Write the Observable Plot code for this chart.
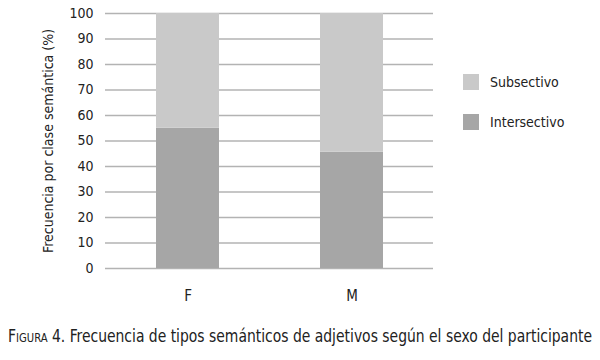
<!DOCTYPE html>
<html><head><meta charset="utf-8">
<script src="https://cdn.jsdelivr.net/npm/d3@7"></script>
<script src="https://cdn.jsdelivr.net/npm/@observablehq/plot@0.6"></script>
<style>
body{margin:0;background:#fff;font-family:"DejaVu Sans Condensed","DejaVu Sans",sans-serif;font-stretch:condensed;}
#wrap{position:relative;width:600px;height:360px;overflow:hidden;}
#legend{position:absolute;left:463px;top:72px;font-size:14px;color:#222;}
.li{display:flex;align-items:center;height:20px;margin-bottom:20px;}
.sw{width:16px;height:16px;margin-right:11px;}
#caption{position:absolute;left:8px;top:325px;white-space:nowrap;font-size:18px;line-height:22px;color:#222;transform-origin:0 0;display:inline-block;}
.sc{font-variant:small-caps;}
</style></head>
<body><div id="wrap"><div id="chart"></div><div id="legend"></div>
<div id="caption"><span class="sc">Figura</span> 4. Frecuencia de tipos semánticos de adjetivos según el sexo del participante</div>
</div>
<script>
const categories = ["F", "M"];
const series = ["Intersectivo", "Subsectivo"];
const intersectivo = [55, 45.6];
const subsectivo = [45, 54.4];
const colors = ["#a6a6a6", "#c9c9c9"];
const yTicks = [0,10,20,30,40,50,60,70,80,90,100];

const data = [];
categories.forEach((c,i)=>{
  data.push({sexo:c, tipo:series[0], valor:intersectivo[i]});
  data.push({sexo:c, tipo:series[1], valor:subsectivo[i]});
});

const chart = Plot.plot({
  width: 600, height: 312,
  marginLeft: 105, marginRight: 167, marginTop: 13, marginBottom: 44,
  style: {fontFamily: '"DejaVu Sans Condensed","DejaVu Sans",sans-serif', fontStretch: "condensed", fontSize: "14px", color: "#222", background: "#fff"},
  x: {domain: categories, paddingInner: 0.616, paddingOuter: 0.308, label: null},
  y: {domain: [0,100]},
  color: {domain: series, range: colors},
  marks: [
    Plot.gridY(yTicks, {stroke: "#b3b3b3", strokeOpacity: 1, strokeWidth: 1.5}),
    Plot.barY(data, Plot.stackY({x: "sexo", y: "valor", fill: "tipo", order: series})),
    Plot.axisY(yTicks, {tickSize: 0, tickPadding: 12, label: "Frecuencia por clase semántica (%)", labelAnchor: "center", labelOffset: 62, labelArrow: "none", fontSize: 14}),
    Plot.axisX({tickSize: 0, tickPadding: 22, label: null, fontSize: 15})
  ]
});
document.getElementById("chart").appendChild(chart);

const lg = document.getElementById("legend");
[1,0].forEach(i=>{
  const d = document.createElement("div"); d.className="li";
  d.innerHTML = `<div class="sw" style="background:${colors[i]}"></div><span>${series[i]}</span>`;
  lg.appendChild(d);
});

const cap = document.getElementById("caption");
const w = cap.getBoundingClientRect().width;
if (w > 584) cap.style.transform = `scaleX(${584 / w})`;
</script></body></html>
